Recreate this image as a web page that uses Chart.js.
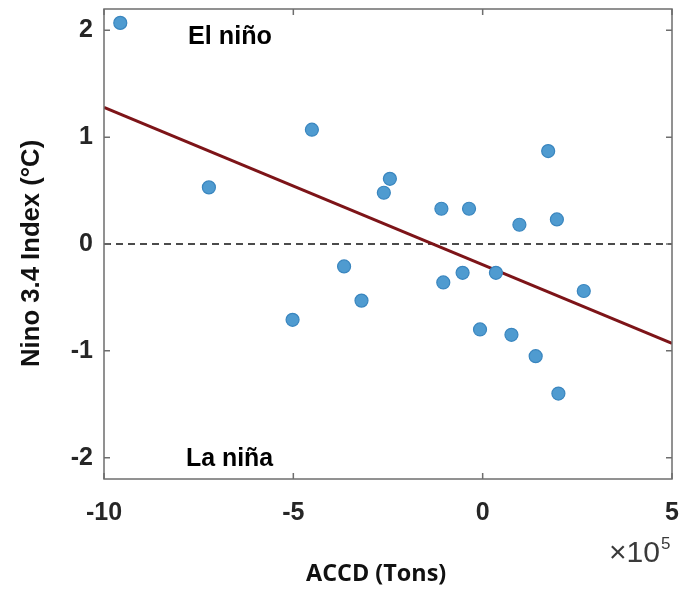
<!DOCTYPE html>
<html>
<head>
<meta charset="utf-8">
<script src="https://cdn.jsdelivr.net/npm/chart.js@4.4.1/dist/chart.umd.min.js"></script>
<style>
  html, body { margin: 0; padding: 0; background: #fff; }
  #wrap { width: 683px; height: 592px; position: relative; }
</style>
</head>
<body>
<div id="wrap"><canvas id="chart" width="683" height="592"></canvas></div>
<script>
// ACCD (x10^5 tons) vs Nino 3.4 index
const accd = [-9.57, -7.23, -4.51, -3.66, -3.20, -5.02, -2.45, -2.61, -1.09, -0.36,
              1.73, 0.97, 1.96, -1.04, -0.53, 0.35, 2.67, -0.07, 0.76, 1.40, 2.00];
const nino = [2.07, 0.53, 1.07, -0.21, -0.53, -0.71, 0.61, 0.48, 0.33, 0.33,
              0.87, 0.18, 0.23, -0.36, -0.27, -0.27, -0.44, -0.80, -0.85, -1.05, -1.40];

// fitted line end points
const fitX = [-10, 5];
const fitY = [1.28, -0.93];

const xTicks = [-10, -5, 0, 5];
const yTicks = [-2, -1, 0, 1, 2];

const axisColor = '#6e6e6e';
const textColor = '#262626';
const SANS = '"Liberation Sans", Arial, sans-serif';

// fit a text into a given width by picking the font size
function fitFont(ctx, text, weight, family, width) {
    ctx.font = weight + ' 20px ' + family;
    const size = 20 * width / ctx.measureText(text).width;
    ctx.font = weight + ' ' + size.toFixed(1) + 'px ' + family;
}

// inner tick marks, box and annotations (MATLAB look)
const decor = {
    id: 'decor',
    afterDraw(chart) {
        const ctx = chart.ctx;
        const a = chart.chartArea;
        const xs = chart.scales.x, ys = chart.scales.y;
        ctx.save();
        ctx.strokeStyle = axisColor;
        ctx.lineWidth = 1.5;
        ctx.strokeRect(a.left, a.top, a.right - a.left, a.bottom - a.top);
        ctx.beginPath();
        xTicks.forEach(v => {
            const p = xs.getPixelForValue(v);
            ctx.moveTo(p, a.bottom); ctx.lineTo(p, a.bottom - 6);
            ctx.moveTo(p, a.top); ctx.lineTo(p, a.top + 6);
        });
        yTicks.forEach(v => {
            const p = ys.getPixelForValue(v);
            ctx.moveTo(a.left, p); ctx.lineTo(a.left + 6, p);
            ctx.moveTo(a.right, p); ctx.lineTo(a.right - 6, p);
        });
        ctx.stroke();

        ctx.fillStyle = '#000';
        ctx.textAlign = 'left';
        ctx.textBaseline = 'alphabetic';
        fitFont(ctx, 'El niño', 'bold', SANS, 84);
        ctx.fillText('El niño', 188, 44);
        fitFont(ctx, 'La niña', 'bold', SANS, 87);
        ctx.fillText('La niña', 186, 466);

        // axis titles
        ctx.fillStyle = '#111';
        fitFont(ctx, 'ACCD (Tons)', 'bold', '"Open Sans", sans-serif', 140);
        ctx.fillText('ACCD (Tons)', 306, 581);

        ctx.save();
        ctx.translate(39, 367);
        ctx.rotate(-Math.PI / 2);
        fitFont(ctx, 'Nino 3.4 Index (°C)', 'bold', SANS, 227);
        ctx.fillText('Nino 3.4 Index (°C)', 0, 0);
        ctx.restore();

        // exponent
        ctx.fillStyle = '#3a3a3a';
        fitFont(ctx, '×10', 'normal', SANS, 51);
        ctx.fillText('×10', 609, 562);
        ctx.font = '17px ' + SANS;
        ctx.fillText('5', 661, 549);
        ctx.restore();
    }
};

new Chart(document.getElementById('chart'), {
    type: 'scatter',
    data: {
        datasets: [
            {
                label: 'zero',
                type: 'line',
                data: fitX.map(x => ({ x, y: 0 })),
                borderColor: '#111',
                borderWidth: 1.5,
                borderDash: [7, 5],
                pointRadius: 0,
                order: 3
            },
            {
                label: 'fit',
                type: 'line',
                data: fitX.map((x, i) => ({ x, y: fitY[i] })),
                borderColor: '#7d1418',
                borderWidth: 3,
                pointRadius: 0,
                order: 2
            },
            {
                label: 'data',
                data: accd.map((x, i) => ({ x, y: nino[i] })),
                backgroundColor: '#4f9bd0',
                borderColor: '#3a86bf',
                borderWidth: 1.2,
                pointRadius: 6.5,
                order: 1
            }
        ]
    },
    options: {
        responsive: false,
        animation: false,
        layout: { padding: { left: 0, right: 11, top: 9, bottom: 0 } },
        plugins: {
            legend: { display: false },
            tooltip: { enabled: false }
        },
        scales: {
            x: {
                type: 'linear',
                min: -10,
                max: 5,
                afterBuildTicks: s => { s.ticks = xTicks.map(v => ({ value: v })); },
                afterFit: s => {
                    s.height = 113;
                    s.paddingLeft = 0; s.paddingRight = 0;
                },
                grid: { display: false, drawTicks: false },
                border: { display: false },
                ticks: {
                    padding: 19,
                    color: textColor,
                    font: { family: SANS, size: 25, weight: 'bold' },
                    maxRotation: 0
                }
            },
            y: {
                type: 'linear',
                min: -2.2,
                max: 2.2,
                afterBuildTicks: s => { s.ticks = yTicks.map(v => ({ value: v })); },
                afterFit: s => {
                    s.width = 104;
                    s.paddingTop = 0; s.paddingBottom = 0;
                },
                grid: { display: false, drawTicks: false },
                border: { display: false },
                ticks: {
                    padding: 11,
                    color: textColor,
                    font: { family: SANS, size: 25, weight: 'bold' }
                }
            }
        }
    },
    plugins: [decor]
});
</script>
</body>
</html>
